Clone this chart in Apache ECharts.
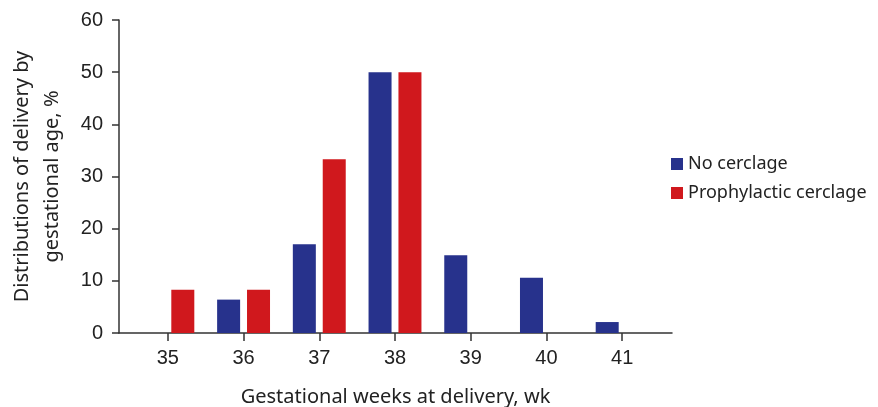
<!DOCTYPE html>
<html><head><meta charset="utf-8">
<script src="https://cdn.jsdelivr.net/npm/echarts@6/dist/echarts.min.js"></script>
<style>html,body{margin:0;padding:0;background:#fff}#c{width:878px;height:407px}</style>
</head><body><div id="c"></div>
<script>
const categories = ['35','36','37','38','39','40','41'];
const noCerclage = [null, 6.4, 17.0, 50.0, 14.9, 10.6, 2.1];
const prophylactic = [8.3, 8.3, 33.3, 50.0, null, null, null];
const yTicks = {min: 0, max: 60, interval: 10};

const chart = echarts.init(document.getElementById('c'));
const axisColor = '#333';
chart.setOption({
  animation: false,
  backgroundColor: '#fff',
  grid: [
    {left: 119, right: 206, top: 20, bottom: 74, containLabel: false, outerBoundsMode: 'none'},
    {left: 130, right: 218, top: 20, bottom: 74, containLabel: false, outerBoundsMode: 'none'}
  ],
  legend: {
    orient: 'vertical', left: 666, top: 150,
    itemWidth: 12, itemHeight: 12, itemGap: 11, icon: 'rect',
    textStyle: {fontFamily: 'Noto Sans', fontSize: 18, color: '#222', lineHeight: 18},
    data: ['No cerclage', 'Prophylactic cerclage']
  },
  xAxis: [
    {gridIndex: 0, type: 'value', min: 0, max: 1,
     axisLine: {show: true, onZero: false, lineStyle: {color: axisColor, width: 1.5}},
     axisTick: {show: false}, axisLabel: {show: false}, splitLine: {show: false},
     name: 'Gestational weeks at delivery, wk', nameLocation: 'middle', nameGap: 54,
     nameTextStyle: {fontFamily: 'Noto Sans', fontSize: 20, color: '#222'}},
    {gridIndex: 1, type: 'category', data: categories,
     axisLine: {show: false},
     axisTick: {show: true, alignWithLabel: true, length: 8, lineStyle: {color: axisColor, width: 1.5}},
     axisLabel: {fontFamily: 'Liberation Sans', fontSize: 20, color: '#222', margin: 15},
     splitLine: {show: false}}
  ],
  yAxis: [
    {gridIndex: 0, type: 'value', min: yTicks.min, max: yTicks.max, interval: yTicks.interval,
     axisLine: {show: true, onZero: false, lineStyle: {color: axisColor, width: 1.5}},
     axisTick: {show: true, length: 7, lineStyle: {color: axisColor, width: 1.5}},
     axisLabel: {fontFamily: 'Liberation Sans', fontSize: 20, color: '#222', margin: 16},
     splitLine: {show: false},
     name: 'Distributions of delivery by\ngestational age, %', nameLocation: 'middle', nameGap: 52,
     nameRotate: 90,
     nameTextStyle: {fontFamily: 'Noto Sans', fontSize: 20, color: '#222', lineHeight: 30}},
    {gridIndex: 1, type: 'value', min: yTicks.min, max: yTicks.max, interval: yTicks.interval,
     show: false}
  ],
  series: [
    {name: 'No cerclage', type: 'bar', xAxisIndex: 1, yAxisIndex: 1, data: noCerclage,
     barWidth: 23, barGap: '30%', itemStyle: {color: '#27328c'}},
    {name: 'Prophylactic cerclage', type: 'bar', xAxisIndex: 1, yAxisIndex: 1, data: prophylactic,
     barWidth: 23, barGap: '30%', itemStyle: {color: '#d0181d'}}
  ]
});
</script></body></html>
